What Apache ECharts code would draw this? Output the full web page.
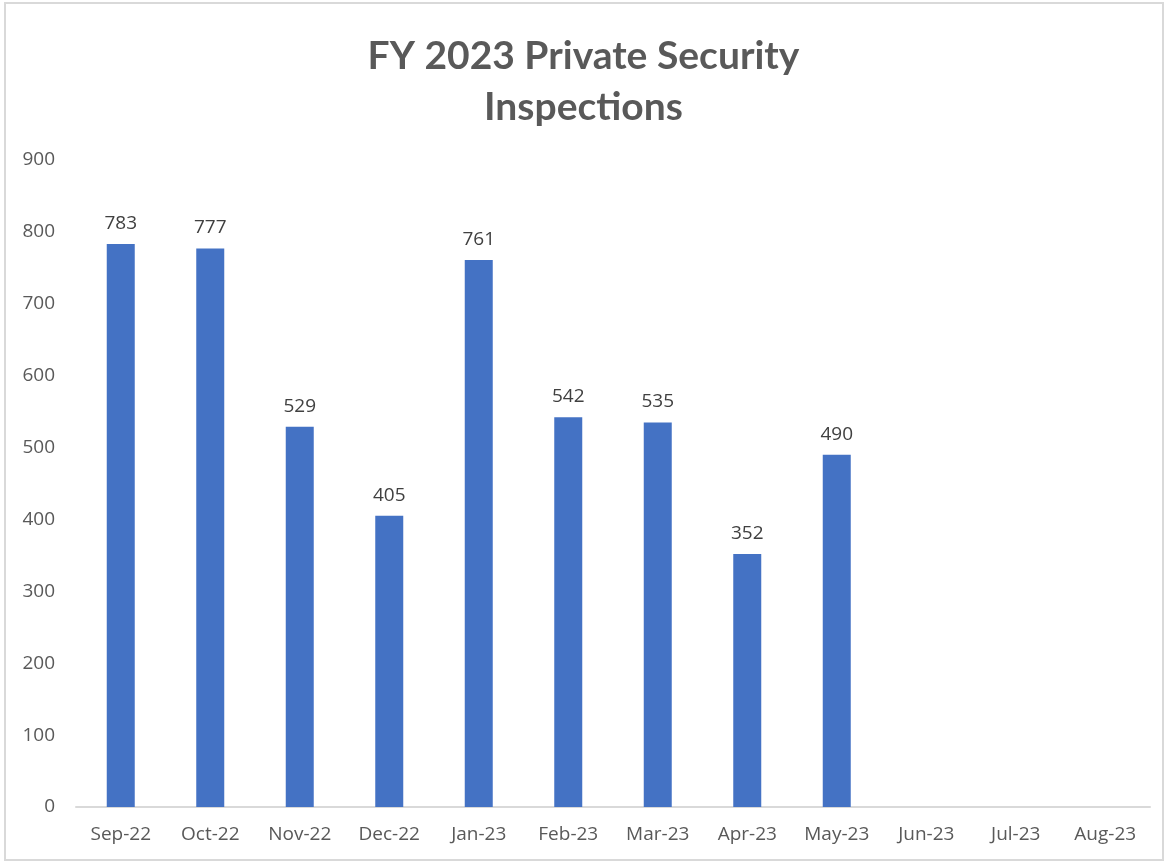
<!DOCTYPE html>
<html>
<head>
<meta charset="utf-8">
<script src="https://cdn.jsdelivr.net/npm/echarts@6/dist/echarts.min.js"></script>
<style>
  html, body { margin: 0; padding: 0; background: #fff; }
  #chart { width: 1167px; height: 863px; }
</style>
</head>
<body>
<div id="chart"></div>
<script>
// data
var months = ['Sep-22', 'Oct-22', 'Nov-22', 'Dec-22', 'Jan-23', 'Feb-23', 'Mar-23', 'Apr-23', 'May-23', 'Jun-23', 'Jul-23', 'Aug-23'];
var inspections = [783, 777, 529, 405, 761, 542, 535, 352, 490, null, null, null];
var chartTitle = 'FY 2023 Private Security\nInspections';

var myChart = echarts.init(document.getElementById('chart'));
var textColor = '#595959';
var font = '"Open Sans", "Noto Sans", sans-serif';

var option = {
    animation: false,
    title: {
        text: chartTitle,
        left: 'center',
        top: 26,
        textStyle: {
            color: textColor,
            fontSize: 39,
            fontWeight: 'bold',
            fontFamily: 'Lato, "Open Sans", sans-serif',
            lineHeight: 51
        }
    },
    graphic: [{
        type: 'rect',
        shape: { x: 5, y: 3, width: 1158, height: 857 },
        style: { fill: 'none', stroke: '#d9d9d9', lineWidth: 2 },
        silent: true
    }],
    grid: {
        left: 76,
        right: 17,
        top: 160,
        bottom: 56,
        containLabel: false
    },
    xAxis: {
        type: 'category',
        data: months,
        axisTick: { show: false },
        axisLine: { lineStyle: { color: '#d9d9d9', width: 2 } },
        axisLabel: {
            color: textColor,
            fontSize: 19,
            fontFamily: font,
            margin: 18,
            interval: 0
        }
    },
    yAxis: {
        type: 'value',
        min: 0,
        max: 900,
        interval: 100,
        axisLine: { show: false },
        axisTick: { show: false },
        splitLine: { show: false },
        axisLabel: {
            color: textColor,
            fontSize: 19,
            fontFamily: font,
            margin: 21
        }
    },
    series: [{
        name: 'Inspections',
        type: 'bar',
        data: inspections,
        barWidth: 28,
        itemStyle: { color: '#4472c4' },
        label: {
            show: true,
            position: 'top',
            distance: 11,
            color: '#404040',
            fontSize: 19,
            fontFamily: font
        }
    }]
};

myChart.setOption(option);
window.addEventListener('resize', function () {
    myChart.resize();
});
</script>
</body>
</html>
